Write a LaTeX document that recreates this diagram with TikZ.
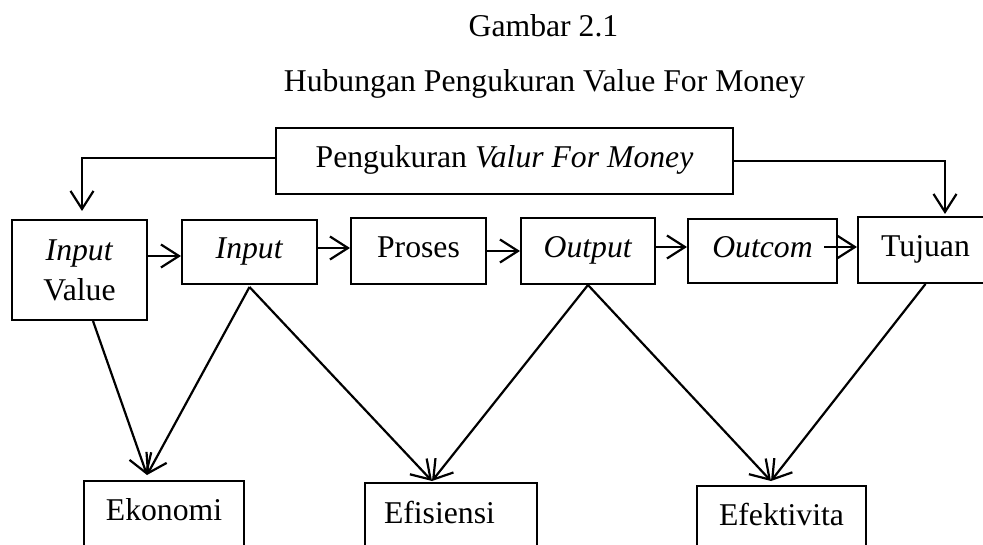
\documentclass[tikz,border=0pt]{standalone}
\usepackage{fontspec}
\setmainfont{Liberation Serif}
\usetikzlibrary{arrows.meta,calc}
\begin{document}
\begin{tikzpicture}[x=1pt,y=-1pt,
  font=\fontsize{31.7}{40}\selectfont,
  box/.style={draw, line width=2pt, inner sep=0pt},
  one/.style={text height=21pt, text depth=7pt},
  arr/.style={line width=2.2pt, -{Straight Barb[length=18pt,width=23pt,line width=2.2pt]}},
  ln/.style={line width=2.2pt}]
\useasboundingbox (0,0) rectangle (983,545);
\clip (0,0) rectangle (983,545);
% titles
\node[anchor=base] (t1) at (543.5,37) {Gambar 2.1};
\node[anchor=base] (t2) at (544.5,92) {Hubungan Pengukuran Value For Money};
% top box
\node[box,one,minimum width=457pt,minimum height=66pt] (pv) at (504.5,161) {Pengukuran \textit{Valur For Money}};
% row boxes
\node[box,align=center,minimum width=135pt,minimum height=100pt] (iv) at (79.5,270) {\textit{Input}\\Value};
\node[box,one,minimum width=135pt,minimum height=64pt] (in) at (249.5,252) {\textit{Input}};
\node[box,one,minimum width=135pt,minimum height=66pt] (pr) at (418.5,251) {Proses};
\node[box,one,minimum width=134pt,minimum height=66pt] (out) at (588,251) {\textit{Output}};
\node[box,one,minimum width=149pt,minimum height=64pt] (oc) at (762.5,251) {\textit{Outcom}};
\node[box,one,minimum width=135pt,minimum height=66pt] (tj) at (925.5,250) {Tujuan};
% bottom boxes
\node[box,text height=21pt,text depth=43pt,minimum width=160pt,minimum height=100pt] (ek) at (164,531) {Ekonomi};
\node[box,text height=21pt,text depth=41pt,minimum width=172pt,minimum height=100pt,text width=134pt,align=left] (ef) at (451,533) {Efisiensi};
\node[box,text height=21pt,text depth=43pt,minimum width=169pt,minimum height=100pt] (efk) at (781.5,536) {Efektivita};
% top connectors
\draw[arr,shorten >=8pt] ([yshift=3pt]pv.west) -| ([xshift=2.5pt]iv.north);
\draw[arr,shorten >=2pt] (pv.east) -| ([xshift=19.5pt]tj.north);
% row arrows
\draw[arr] ([yshift=14pt]iv.east) -- ([yshift=14pt]iv.east -| in.west);
\draw[arr] ([yshift=4pt]in.east) -- ([yshift=4pt]in.east -| pr.west);
\draw[arr] (pr.east) -- (pr.east -| out.west);
\draw[arr] ([yshift=4pt]out.east) -- ([yshift=4pt]out.east -| oc.west);
\draw[arr] ([xshift=-14pt,yshift=4pt]oc.east) -- ([yshift=4pt]oc.east -| tj.west);
% diagonals
\draw[arr] ([xshift=13.5pt]iv.south) -- ([xshift=-17pt,yshift=5pt]ek.north);
\draw[arr] ([yshift=-2pt]in.south) -- ([xshift=-17pt,yshift=5pt]ek.north);
\draw[arr] ([yshift=-2pt]in.south) -- ([xshift=-19pt,yshift=1pt]ef.north);
\draw[arr] (out.south) -- ([xshift=-19pt,yshift=1pt]ef.north);
\draw[arr] (out.south) -- ([xshift=-10.5pt,yshift=4pt]efk.north);
\draw[arr] (tj.south) -- ([xshift=-10.5pt,yshift=4pt]efk.north);
\end{tikzpicture}
\end{document}
